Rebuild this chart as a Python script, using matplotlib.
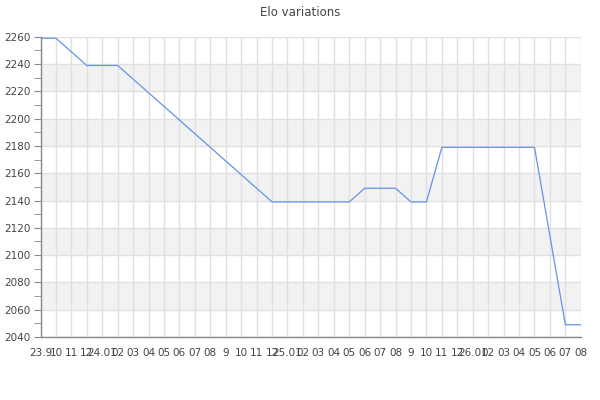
import numpy as np
import matplotlib
matplotlib.use("Agg")
import matplotlib.pyplot as plt
from matplotlib.ticker import MultipleLocator

# month labels as shown on the x axis
months = ["23.9", "10", "11", "12",
          "24.01", "02", "03", "04", "05", "06", "07", "08", "9", "10", "11", "12",
          "25.01", "02", "03", "04", "05", "06", "07", "08", "9", "10", "11", "12",
          "26.01", "02", "03", "04", "05", "06", "07", "08"]

elo = [2259, 2259, 2249, 2239, 2239, 2239, 2229, 2219, 2209, 2199,
       2189, 2179, 2169, 2159, 2149, 2139, 2139, 2139, 2139, 2139,
       2139, 2149, 2149, 2149, 2139, 2139, 2179, 2179, 2179, 2179,
       2179, 2179, 2179, 2114, 2049, 2049]

bands = [(2220, 2240), (2180, 2200), (2140, 2160), (2100, 2120), (2060, 2080)]

fig = plt.figure(figsize=(6, 4), dpi=100)
ax = fig.add_axes([0.0675, 0.1575, 0.9005, 0.7505])

x = np.arange(len(months))

for lo, hi in bands:
    ax.axhspan(lo, hi, color="#f2f2f2", zorder=0, lw=0)

ax.plot(x, elo, color="#6493e6", lw=0.9, zorder=3)

ax.set_xlim(0, len(months) - 1)
ax.set_ylim(2040, 2260)
ax.set_xticks(x)
ax.set_xticklabels(months)
ax.yaxis.set_major_locator(MultipleLocator(20))
ax.yaxis.set_minor_locator(MultipleLocator(10))

ax.grid(True, which="major", color="#e0e0e0", lw=1, zorder=1)
ax.set_axisbelow(True)

for s in ["top", "right"]:
    ax.spines[s].set_visible(False)
for s in ["left", "bottom"]:
    ax.spines[s].set_color("#888888")
    ax.spines[s].set_linewidth(1)

ax.tick_params(axis="x", length=0, labelsize=7.5, labelcolor="#444444", pad=8)
ax.tick_params(axis="y", which="major", length=5, color="#888888",
               labelsize=7.5, labelcolor="#444444", pad=2)
ax.tick_params(axis="y", which="minor", length=5, color="#888888")

fig.text(0.5, 0.97, "Elo variations", ha="center", va="center",
         fontsize=8.5, color="#444444")

fig.savefig("out.png", dpi=100)
